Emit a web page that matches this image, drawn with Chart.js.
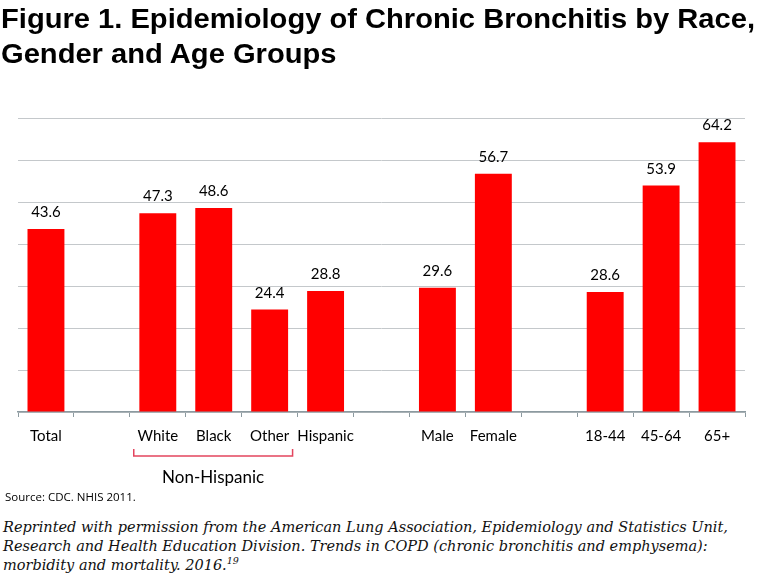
<!DOCTYPE html>
<html>
<head>
<meta charset="utf-8">
<script src="https://cdn.jsdelivr.net/npm/chart.js@4.4.0/dist/chart.umd.min.js"></script>
<style>
  html, body { margin: 0; padding: 0; background: #fff; }
  body { width: 758px; height: 588px; position: relative; overflow: hidden; }
  #title { position: absolute; left: 1px; top: 1px; font-family: "Liberation Sans", Arial, sans-serif; font-weight: bold; font-size: 28px; line-height: 35px; color: #000; white-space: nowrap; transform-origin: 0 0; }
  #wrap { position: absolute; left: 0; top: 0; width: 758px; height: 510px; }
  #source { position: absolute; left: 5px; top: 489px; font-family: "Open Sans", sans-serif; font-size: 11.5px; color: #000; }
  #note { position: absolute; left: 3px; top: 518px; font-family: "DejaVu Serif", serif; font-style: italic; font-size: 14.5px; line-height: 19px; color: #111; white-space: nowrap; }
  #note sup { font-size: 9.5px; line-height: 0; }
</style>
</head>
<body>
<div id="wrap"><canvas id="c" width="758" height="510"></canvas></div>
<div id="title">Figure 1. Epidemiology of Chronic Bronchitis by Race,<br>Gender and Age Groups</div>
<div id="source">Source: CDC. NHIS 2011.</div>
<div id="note">Reprinted with permission from the American Lung Association, Epidemiology and Statistics Unit,<br>Research and Health Education Division. Trends in COPD (chronic bronchitis and emphysema):<br>morbidity and mortality. 2016.<sup>19</sup></div>
<script>
const categories = ["Total", "", "White", "Black", "Other", "Hispanic", "", "Male", "Female", "", "18-44", "45-64", "65+"];
const prevalence = [43.6, null, 47.3, 48.6, 24.4, 28.8, null, 29.6, 56.7, null, 28.6, 53.9, 64.2];
const groupLabel = "Non-Hispanic";
const groupStart = "White";
const groupEnd = "Other";
const yTicks = [0, 10, 20, 30, 40, 50, 60, 70];

// fit condensed title width
(function () {
  const t = document.getElementById('title');
  const w = t.getBoundingClientRect().width;
  const s = 754 / w;
  t.style.transform = 'scaleX(' + s + ')';
})();

const labelFont = '15px Lato, "Open Sans", sans-serif';

const valueLabels = {
  id: 'valueLabels',
  afterDatasetsDraw(chart) {
    const ctx = chart.ctx;
    const meta = chart.getDatasetMeta(0);
    ctx.save();
    ctx.font = labelFont;
    ctx.fillStyle = '#000';
    ctx.textAlign = 'center';
    ctx.textBaseline = 'alphabetic';
    meta.data.forEach((bar, i) => {
      const v = prevalence[i];
      if (v === null) return;
      ctx.fillText(v.toFixed(1), bar.x, bar.y - 12);
    });
    ctx.restore();
  }
};

const bracket = {
  id: 'bracket',
  afterDraw(chart) {
    const ctx = chart.ctx;
    const xs = chart.scales.x;
    const slot = xs.getPixelForValue(1) - xs.getPixelForValue(0);
    const x0 = xs.getPixelForValue(categories.indexOf(groupStart)) - slot * 0.43;
    const x1 = xs.getPixelForValue(categories.indexOf(groupEnd)) + slot * 0.41;
    const yb = xs.top + 44;
    ctx.save();
    ctx.strokeStyle = '#e3455e';
    ctx.lineWidth = 1.5;
    ctx.beginPath();
    ctx.moveTo(x0, yb - 7);
    ctx.lineTo(x0, yb);
    ctx.lineTo(x1, yb);
    ctx.lineTo(x1, yb - 7);
    ctx.stroke();
    ctx.font = '17px Lato, "Open Sans", sans-serif';
    ctx.fillStyle = '#000';
    ctx.textAlign = 'center';
    ctx.textBaseline = 'middle';
    ctx.fillText(groupLabel, (x0 + x1) / 2, yb + 22);
    ctx.restore();
  }
};

new Chart(document.getElementById('c'), {
  type: 'bar',
  data: {
    labels: categories,
    datasets: [{
      data: prevalence,
      backgroundColor: '#ff0000',
      borderWidth: 0,
      barPercentage: 0.66,
      categoryPercentage: 1.0
    }]
  },
  options: {
    responsive: false,
    animation: false,
    devicePixelRatio: 1,
    layout: { padding: { top: 118, left: 18, right: 13, bottom: 55 } },
    plugins: { legend: { display: false }, tooltip: { enabled: false }, title: { display: false } },
    scales: {
      x: {
        offset: true,
        grid: { display: true, drawOnChartArea: false, drawTicks: true, tickLength: 5, color: '#8c9aa0', offset: true },
        border: { display: true, color: '#8c9aa0', width: 1.5 },
        ticks: { font: { family: 'Lato, "Open Sans", sans-serif', size: 15 }, color: '#000', padding: 10, maxRotation: 0, autoSkip: false }
      },
      y: {
        min: yTicks[0],
        max: yTicks[yTicks.length - 1],
        afterBuildTicks(axis) { axis.ticks = yTicks.map(v => ({ value: v })); },
        grid: { color: '#c4c8cb', lineWidth: 1, drawTicks: false },
        border: { display: false },
        ticks: { display: false }
      }
    }
  },
  plugins: [valueLabels, bracket]
});
</script>
</body>
</html>
